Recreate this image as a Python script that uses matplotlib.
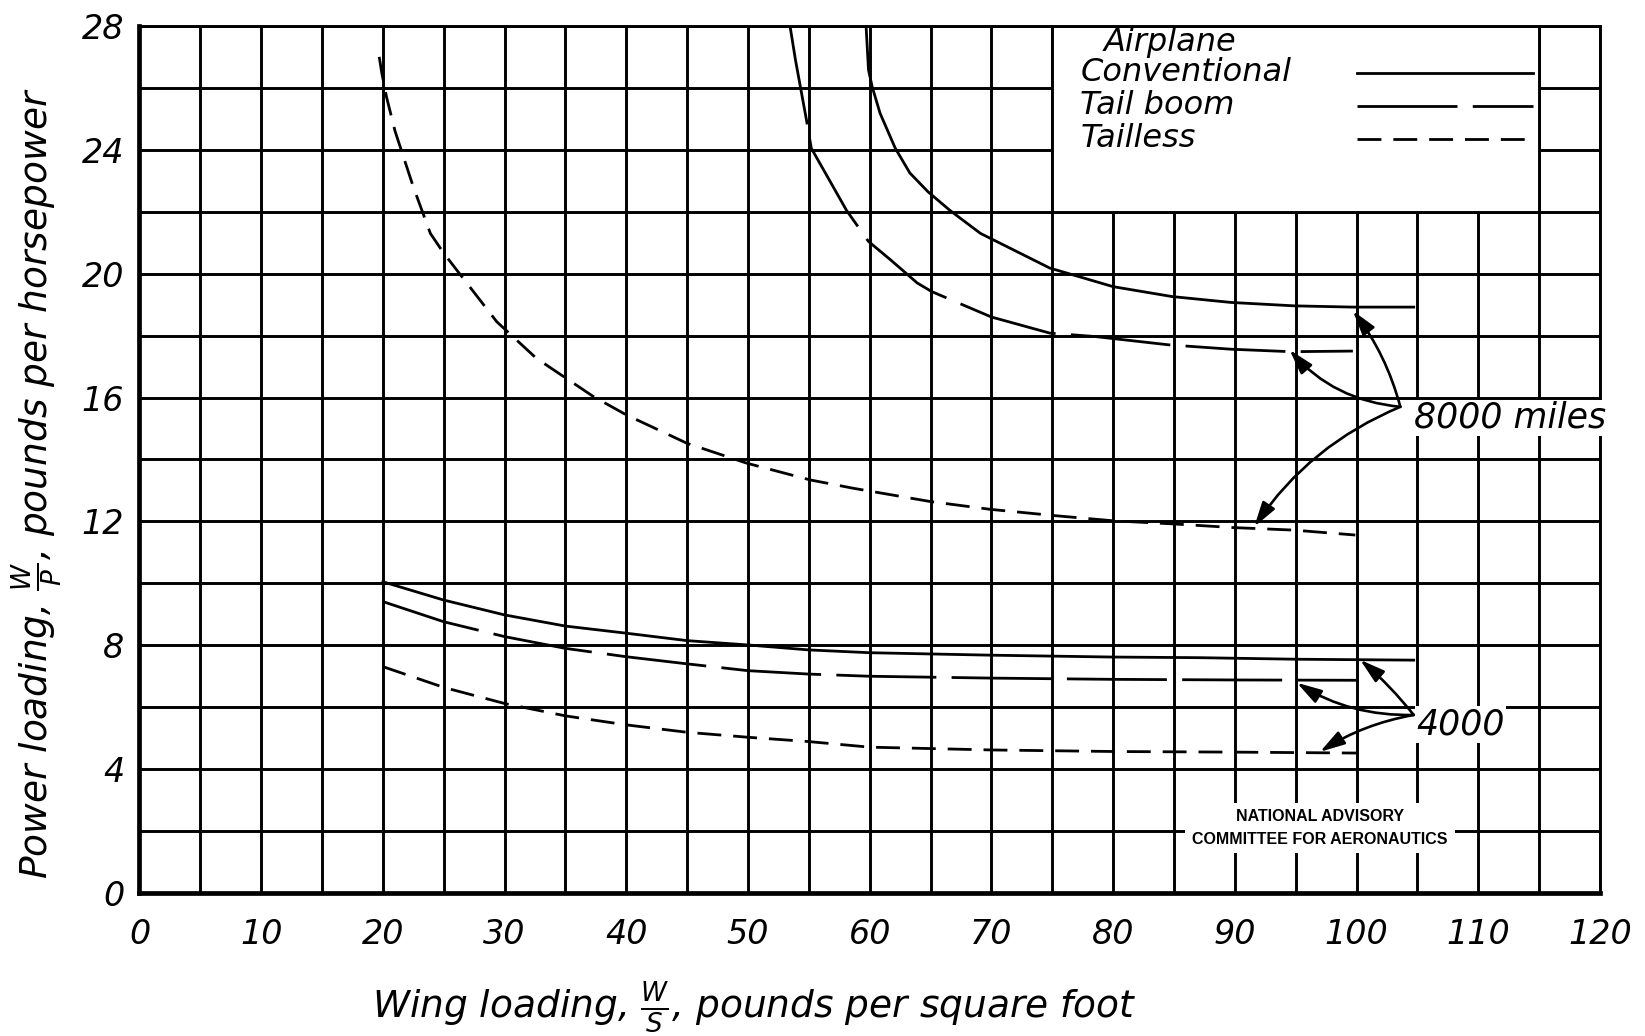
import matplotlib
matplotlib.use("Agg")
import matplotlib.pyplot as plt
from matplotlib.patches import Rectangle

plt.rcParams['font.family'] = 'DejaVu Sans'
plt.rcParams['font.style'] = 'oblique'
plt.rcParams['mathtext.fontset'] = 'custom'
plt.rcParams['mathtext.rm'] = 'DejaVu Sans:italic'
plt.rcParams['mathtext.it'] = 'DejaVu Sans:italic'

# wing loading W/S (lb/sq ft) against power loading W/P (lb/hp)
# 8000 mile range
conv_8000_x = [59.7, 59.9, 60.2, 60.85, 62.1, 63.3, 64.8, 66.6, 69.1, 74.8, 80.0, 84.85, 89.7, 94.9, 99.7, 104.7]
conv_8000_y = [28.0, 26.58, 26.04, 25.18, 24.05, 23.25, 22.64, 22.04, 21.3, 20.18, 19.58, 19.26, 19.07, 18.96, 18.92, 18.92]
boom_8000_x = [53.45, 53.9, 54.3, 54.8, 55.2, 56.6, 58.1, 59.9, 61.7, 63.9, 65.1, 70.0, 74.8, 78.5,
               84.6, 89.7, 94.6, 99.7]
boom_8000_y = [28.0, 26.9, 26.04, 24.97, 24.05, 23.08, 22.04, 21.04, 20.45, 19.7, 19.42, 18.6, 18.08, 17.97,
               17.7, 17.56, 17.48, 17.5]
tailless_8000_x = [19.7, 19.9, 20.3, 21.0, 22.5, 23.9, 25.0, 26.1, 29.35, 32.6, 37.3, 40.0, 45.0, 49.9, 55.1,
                   58.65, 65.0, 69.9, 75.1, 80.0, 84.9, 89.9, 94.8, 99.9]
tailless_8000_y = [27.0, 26.5, 25.7, 24.6, 22.8, 21.3, 20.66, 20.1, 18.45, 17.27, 16.03, 15.44, 14.52, 13.88, 13.34,
                   13.07, 12.64, 12.39, 12.19, 12.02, 11.92, 11.80, 11.72, 11.56]

# 4000 mile range
conv_4000_x = [20, 25, 30, 35, 40, 45, 50, 55, 60, 70, 80, 87, 95, 104.7]
conv_4000_y = [10.05, 9.46, 8.98, 8.62, 8.39, 8.15, 8.01, 7.85, 7.76, 7.68, 7.62, 7.6, 7.55, 7.52]
boom_4000_x = [20, 25, 30, 35, 40, 45, 50, 55, 60, 70, 80, 90, 100]
boom_4000_y = [9.41, 8.76, 8.28, 7.9, 7.63, 7.4, 7.18, 7.07, 7.0, 6.94, 6.9, 6.88, 6.87]
tailless_4000_x = [20, 25, 30, 35, 40, 45, 50, 55, 60, 70, 80, 90, 100]
tailless_4000_y = [7.31, 6.64, 6.12, 5.72, 5.43, 5.19, 5.03, 4.89, 4.71, 4.62, 4.57, 4.55, 4.52]

airplane_types = ['Conventional', 'Tail boom', 'Tailless']
range_labels = ['8000 miles', '4000']

x_ticks = list(range(0, 121, 10))
y_ticks = list(range(0, 29, 4))

solid = '-'
boom_dash = (0, (36, 5.5))
tailless_dash = (0, (8.6, 4.3))
styles = [solid, boom_dash, tailless_dash]
lw = 2.0

fig = plt.figure(figsize=(16.45, 10.36), dpi=100)
ax = fig.add_axes([0.0848, 0.138, 0.8878, 0.837])
ax.set_xlim(0, 120)
ax.set_ylim(0, 28)

ax.set_xticks(x_ticks)
ax.set_xticklabels([str(v) for v in x_ticks])
ax.set_xticks(range(0, 121, 5), minor=True)
ax.set_yticks(y_ticks)
ax.set_yticklabels([str(v) for v in y_ticks])
ax.set_yticks(range(0, 29, 2), minor=True)
ax.tick_params(which='both', length=0, labelsize=24)
ax.tick_params(axis='x', pad=18)
ax.tick_params(axis='y', pad=11)
ax.set_axisbelow(True)
ax.grid(which='both', color='black', lw=2.1)
for s in ['left', 'bottom']:
    ax.spines[s].set_linewidth(3.4)
for s in ['top', 'right']:
    ax.spines[s].set_linewidth(2.1)

curves = [(conv_8000_x, conv_8000_y, solid), (boom_8000_x, boom_8000_y, boom_dash),
          (tailless_8000_x, tailless_8000_y, tailless_dash),
          (conv_4000_x, conv_4000_y, solid), (boom_4000_x, boom_4000_y, boom_dash),
          (tailless_4000_x, tailless_4000_y, tailless_dash)]
for xs, ys, ls in curves:
    ax.plot(xs, ys, color='black', lw=lw, linestyle=ls, zorder=3)

# key box in the upper right
ax.add_patch(Rectangle((75, 22), 40, 6, facecolor='white', edgecolor='black', lw=2.1, zorder=1.5))
ax.text(79.2, 27.46, 'Airplane', fontsize=23, va='center', zorder=4)
key_y = [26.48, 25.42, 24.36]
for name, ls, ky in zip(airplane_types, styles, key_y):
    ax.text(77.3, ky, name, fontsize=23, va='center', zorder=4)
    ax.plot([100, 114.5], [ky, ky], color='black', lw=lw, linestyle=ls, zorder=4)

# range call-outs
arrow = dict(arrowstyle='-|>,head_length=0.75,head_width=0.22', color='black', lw=1.9,
             shrinkA=0, shrinkB=0, mutation_scale=20)
callouts = [
    (range_labels[0], (104.7, 15.34), (103.6, 15.7),
     [((99.7, 18.8), 0.1), ((94.5, 17.54), -0.2), ((91.6, 11.83), 0.15)]),
    (range_labels[1], (104.9, 5.43), (104.7, 5.75),
     [((100.3, 7.53), 0.05), ((95.1, 6.79), -0.15), ((97.0, 4.56), 0.1)]),
]
for label, pos, vertex, tips in callouts:
    ax.text(pos[0], pos[1], label, fontsize=25, va='center', ha='left', zorder=4, clip_on=False,
            bbox=dict(facecolor='white', edgecolor='none', pad=1))
    for tip, rad in tips:
        ax.annotate('', xy=tip, xytext=vertex,
                    arrowprops=dict(arrow, connectionstyle='arc3,rad={}'.format(rad)), zorder=5)

ax.text(97.0, 2.1, 'NATIONAL ADVISORY\nCOMMITTEE FOR AERONAUTICS', family='Liberation Sans',
        style='normal', weight='bold', fontsize=11.5, ha='center', va='center', linespacing=1.6,
        zorder=4, bbox=dict(facecolor='white', edgecolor='none', pad=5))

ax.set_xlabel(r'Wing loading, $\frac{W}{S}$, pounds per square foot', fontsize=27)
ax.xaxis.set_label_coords(0.421, -0.10)
ax.set_ylabel(r'Power loading, $\frac{W}{P}$, pounds per horsepower', fontsize=27)
ax.yaxis.set_label_coords(-0.051, 0.473)

fig.savefig('out.png', dpi=100)
